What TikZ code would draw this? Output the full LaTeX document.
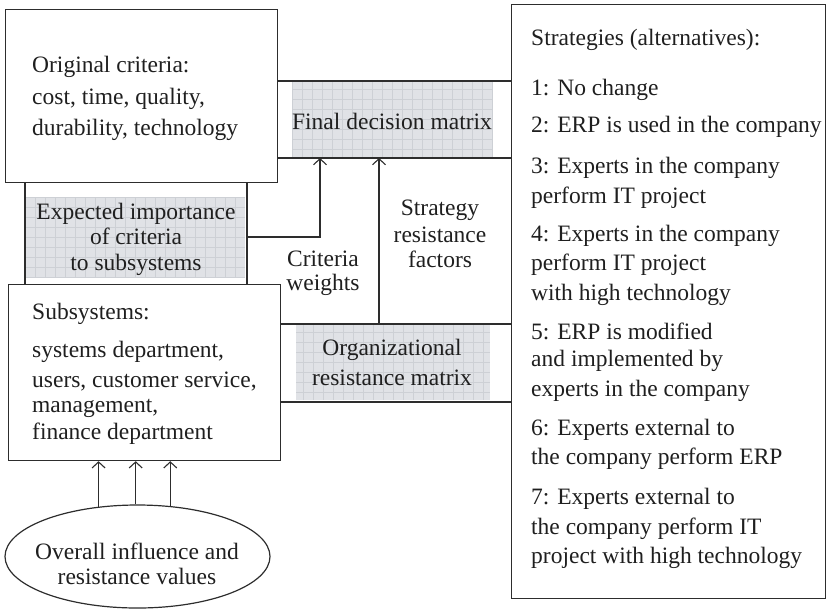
\documentclass[tikz,border=0pt]{standalone}
\usepackage{fontspec}
\setmainfont{Liberation Serif}
\usetikzlibrary{arrows.meta,shapes.geometric}
\definecolor{ln}{RGB}{45,45,45}
\definecolor{gfill}{RGB}{224,226,230}
\definecolor{gline}{RGB}{205,208,213}
\tikzset{
  box/.style={draw=ln, line width=1.2pt, inner sep=0pt, anchor=north west},
  conn/.style={draw=ln, line width=1.2pt},
  arr/.style={conn, -{Straight Barb[length=6pt,width=13pt,line width=1.1pt]}},
  txt/.style={inner sep=0pt, text=black!88, font=\fontsize{23.5}{29}\selectfont},
  mat/.style={fill=gfill, draw=none, inner sep=0pt,
    path picture={\draw[gline, line width=0.6pt, step=10pt]
      (path picture bounding box.south west) grid (path picture bounding box.north east);}},
}
\begin{document}
\begin{tikzpicture}[x=1pt,y=-1pt]
\useasboundingbox (0,0) rectangle (829,611);
% gray matrices
\node[mat, minimum width=201pt, minimum height=75pt] (fdm) at (392.5,119.5) {};
\node[mat, minimum width=219pt, minimum height=80pt] (exp) at (135.5,237) {};
\node[mat, minimum width=194pt, minimum height=75pt] (org) at (393,362.5) {};
% boxes
\node[box, minimum width=272pt, minimum height=173pt] (orig) at (5,9) {};
\node[box, minimum width=314pt, minimum height=594pt] (strat) at (511,4) {};
\node[box, minimum width=272pt, minimum height=176pt] (sub) at (8,284) {};
\node[ellipse, draw=ln, line width=1.2pt, inner sep=0pt, minimum width=265pt, minimum height=103pt] (ell) at (137.5,556.5) {};
% matrix frame lines
\draw[conn] (277,81) -- (511,81);
\draw[conn] (277,158) -- (511,158);
\draw[conn] (25,182) -- (25,284);
\draw[conn] (247,182) -- (247,284);
\draw[conn] (280,324) -- (511,324);
\draw[conn] (280,402) -- (511,402);
% connectors
\coordinate (cwstart) at (247,237);
\coordinate (cwend) at (320,158);
\coordinate (srstart) at (379,324);
\coordinate (srend) at (379,158);
\draw[arr] (cwstart) -| (cwend);
\draw[arr] (srstart) -- (srend);
\draw[arr] (ell.128.25) -- (ell.128.25 |- sub.south);
\draw[arr] (ell.92.7) -- (ell.92.7 |- sub.south);
\draw[arr] (ell.57.45) -- (ell.57.45 |- sub.south);
% texts: original criteria
\node[txt, anchor=base west] (o1) at (32,72) {Original criteria:};
\node[txt, anchor=base west] (o2) at (32,104) {cost, time, quality,};
\node[txt, anchor=base west] (o3) at (32,135) {durability, technology};
% subsystems
\node[txt, anchor=base west] (u1) at (32,319) {Subsystems:};
\node[txt, anchor=base west] (u2) at (32,357) {systems department,};
\node[txt, anchor=base west] (u3) at (32,387) {users, customer service,};
\node[txt, anchor=base west] (u4) at (32,412) {management,};
\node[txt, anchor=base west] (u5) at (32,439) {finance department};
% expected importance
\node[txt, anchor=base] (e1) at (136,219) {Expected importance};
\node[txt, anchor=base] (e2) at (136,244) {of criteria};
\node[txt, anchor=base] (e3) at (136,270) {to subsystems};
% final decision matrix
\node[txt, anchor=base] (f1) at (392,129) {Final decision matrix};
% criteria weights
\node[txt, anchor=base] (c1) at (323,266) {Criteria};
\node[txt, anchor=base] (c2) at (323,290) {weights};
% strategy resistance factors
\node[txt, anchor=base] (r1) at (440,215) {Strategy};
\node[txt, anchor=base] (r2) at (440,242) {resistance};
\node[txt, anchor=base] (r3) at (440,267) {factors};
% organizational resistance matrix
\node[txt, anchor=base] (g1) at (392,355) {Organizational};
\node[txt, anchor=base] (g2) at (392,385) {resistance matrix};
% ellipse text
\node[txt, anchor=base] (l1) at (137,559) {Overall influence and};
\node[txt, anchor=base] (l2) at (137,584) {resistance values};
% strategies
\foreach \yy/\lbl [count=\i] in {
  45/{Strategies (alternatives):},
  95/{1: No change},
  132/{2: ERP is used in the company},
  173/{3: Experts in the company},
  203/{perform IT project},
  241/{4: Experts in the company},
  270/{perform IT project},
  300/{with high technology},
  339/{5: ERP is modified},
  366/{and implemented by},
  396/{experts in the company},
  435/{6: Experts external to},
  464/{the company perform ERP},
  504/{7: Experts external to},
  534/{the company perform IT},
  563/{project with high technology}}
  \node[txt, anchor=base west] (s\i) at (531,\yy) {\lbl};
\end{tikzpicture}
\end{document}
